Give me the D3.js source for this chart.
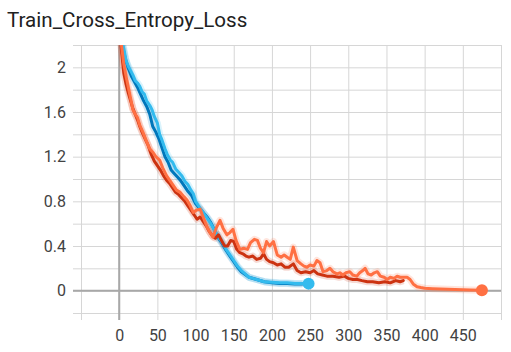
<!DOCTYPE html>
<html>
<head>
<meta charset="utf-8">
<script src="https://cdn.jsdelivr.net/npm/d3@7"></script>
<style>
  body { margin: 0; background: #fff; }
  svg { display: block; font-family: Roboto, sans-serif; }
</style>
</head>
<body>
<svg id="chart" width="511" height="352"></svg>
<script>
// run data: [step, smoothed loss]
var runLightBlue = [[0,2.45],[3,2.25],[6,2.17],[9,2.06],[12,2.01],[15,1.97],[18,1.93],[21,1.88],[24,1.86],[27,1.83],[30,1.78],[33,1.76],[36,1.70],[40,1.66],[43,1.62],[46,1.56],[50,1.50],[53,1.40],[56,1.35],[60,1.27],[63,1.22],[67,1.17],[70,1.15],[74,1.09],[78,1.06],[82,1.03],[86,0.98],[90,0.95],[94,0.90],[97,0.87],[100,0.80],[104,0.76],[108,0.72],[112,0.68],[116,0.64],[120,0.60],[124,0.55],[128,0.50],[132,0.46],[136,0.42],[140,0.37],[145,0.32],[150,0.27],[155,0.22],[160,0.18],[165,0.15],[170,0.12],[175,0.11],[180,0.10],[190,0.08],[200,0.075],[210,0.07],[220,0.07],[230,0.065],[240,0.065],[248,0.063]];

var runDarkBlue = [[0,2.4],[4,2.2],[8,2.08],[12,1.99],[16,1.92],[20,1.87],[24,1.82],[28,1.76],[32,1.70],[36,1.65],[40,1.58],[44,1.47],[48,1.42],[52,1.36],[56,1.28],[60,1.20],[64,1.15],[68,1.08],[72,1.05],[76,1.02],[80,0.99],[85,0.94],[90,0.89],[95,0.85],[100,0.78],[105,0.74],[110,0.70],[115,0.66],[120,0.61],[125,0.54],[130,0.47],[135,0.42],[140,0.36],[145,0.31],[150,0.26],[155,0.21],[160,0.17],[170,0.12],[180,0.10],[190,0.08],[200,0.07],[210,0.065],[220,0.065],[230,0.06],[240,0.06]];

var runDarkRed = [[0,2.4],[3,2.15],[6,1.95],[9,1.85],[12,1.77],[15,1.70],[18,1.63],[21,1.58],[24,1.53],[27,1.47],[30,1.42],[34,1.36],[38,1.30],[42,1.22],[46,1.16],[50,1.12],[54,1.08],[58,1.03],[62,0.99],[66,0.96],[70,0.92],[74,0.88],[78,0.86],[82,0.83],[86,0.80],[90,0.76],[94,0.72],[98,0.68],[102,0.64],[106,0.66],[110,0.62],[114,0.58],[118,0.53],[122,0.49],[126,0.47],[130,0.50],[134,0.45],[138,0.40],[142,0.40],[146,0.45],[150,0.44],[154,0.37],[158,0.34],[162,0.33],[166,0.31],[170,0.30],[175,0.31],[180,0.28],[185,0.29],[189,0.33],[193,0.28],[197,0.26],[202,0.25],[207,0.23],[212,0.24],[217,0.21],[222,0.21],[228,0.24],[233,0.18],[238,0.16],[244,0.17],[250,0.16],[255,0.18],[260,0.15],[266,0.14],[272,0.13],[280,0.13],[288,0.12],[295,0.13],[300,0.11],[306,0.10],[312,0.10],[318,0.09],[325,0.08],[332,0.08],[340,0.07],[348,0.08],[355,0.07],[362,0.09],[368,0.08],[372,0.09]];

var runOrange = [[0,2.45],[3,2.2],[6,2.03],[9,1.92],[12,1.82],[15,1.72],[18,1.62],[21,1.58],[24,1.55],[27,1.48],[31,1.42],[35,1.35],[40,1.27],[44,1.24],[48,1.20],[53,1.17],[57,1.10],[62,1.03],[66,0.99],[70,0.95],[75,0.90],[80,0.88],[85,0.84],[89,0.81],[93,0.76],[97,0.70],[101,0.72],[106,0.73],[110,0.66],[115,0.57],[119,0.52],[123,0.48],[127,0.56],[132,0.63],[136,0.56],[141,0.50],[145,0.52],[149,0.55],[153,0.45],[158,0.37],[163,0.38],[168,0.37],[172,0.43],[177,0.46],[181,0.45],[185,0.38],[189,0.34],[193,0.44],[197,0.40],[202,0.44],[207,0.32],[212,0.30],[216,0.32],[220,0.30],[224,0.28],[228,0.39],[233,0.27],[238,0.24],[242,0.22],[246,0.21],[250,0.23],[255,0.22],[259,0.27],[263,0.25],[267,0.17],[272,0.18],[276,0.20],[280,0.17],[285,0.15],[289,0.16],[293,0.14],[297,0.16],[302,0.17],[306,0.14],[311,0.13],[315,0.16],[319,0.18],[322,0.20],[326,0.15],[330,0.14],[334,0.16],[338,0.17],[342,0.13],[347,0.12],[351,0.10],[355,0.12],[360,0.11],[364,0.13],[368,0.12],[372,0.12],[377,0.12],[381,0.10],[385,0.06],[390,0.035],[395,0.028],[400,0.022],[410,0.018],[420,0.015],[430,0.012],[440,0.01],[450,0.008],[460,0.006],[475,0.004]];

var xGrid = [-50, 0, 50, 100, 150, 200, 250, 300, 350, 400, 450, 500];
var xLabels = [0, 50, 100, 150, 200, 250, 300, 350, 400, 450];
var yGrid = [-0.2, 0, 0.2, 0.4, 0.6, 0.8, 1, 1.2, 1.4, 1.6, 1.8, 2, 2.2];
var yLabels = [0, 0.4, 0.8, 1.2, 1.6, 2];

var runs = [
    {data: runDarkBlue, color: "#0077bb"},
    {data: runLightBlue, color: "#33bbee"},
    {data: runDarkRed, color: "#cc3311"},
    {data: runOrange, color: "#ff7043"}
];

var plotL = 81, plotR = 501, plotT = 45, plotB = 313;

var x = d3.scaleLinear().domain([-50, 500]).range([plotL, plotR]);
var y = d3.scaleLinear().domain([-0.2, 2.2]).range([plotB, plotT]);

var svg = d3.select("#chart");

svg.append("text")
    .attr("x", 7)
    .attr("y", 27)
    .attr("fill", "#212121")
    .style("font-size", "20.6px")
    .text("Train_Cross_Entropy_Loss");

// gridlines + outer ticks
var yAxis = svg.append("g")
    .attr("transform", "translate(" + (plotL - 8) + ",0)")
    .call(d3.axisLeft(y)
        .tickValues(yGrid)
        .tickSize(-(plotR - plotL + 8))
        .tickPadding(7)
        .tickFormat(function(d) {
            var r = Math.round(d * 10) / 10;
            return yLabels.indexOf(r) >= 0 ? d3.format("")(r) : "";
        }));

var xAxis = svg.append("g")
    .attr("transform", "translate(0," + (plotB + 7) + ")")
    .call(d3.axisBottom(x)
        .tickValues(xGrid)
        .tickSize(-(plotB - plotT + 7))
        .tickPadding(10)
        .tickFormat(function(d) { return xLabels.indexOf(d) >= 0 ? d : ""; }));

[yAxis, xAxis].forEach(function(g) {
    g.select(".domain").remove();
    g.selectAll("line").attr("stroke", "#d6d6d6");
    g.selectAll("text")
        .attr("fill", "#424242")
        .style("font-size", "16px")
        .style("font-family", "Roboto, sans-serif");
});

// zero lines
svg.append("line")
    .attr("x1", x(0)).attr("x2", x(0))
    .attr("y1", plotT).attr("y2", plotB + 7)
    .attr("stroke", "#a8a8a8")
    .attr("stroke-width", 2);

svg.append("line")
    .attr("x1", plotL - 8).attr("x2", plotR)
    .attr("y1", y(0)).attr("y2", y(0))
    .attr("stroke", "#a8a8a8")
    .attr("stroke-width", 2);

svg.append("clipPath")
    .attr("id", "clip")
    .append("rect")
    .attr("x", plotL)
    .attr("y", plotT)
    .attr("width", plotR - plotL)
    .attr("height", plotB - plotT);

var line = d3.line()
    .x(function(d) { return x(d[0]); })
    .y(function(d) { return y(d[1]); });

var plot = svg.append("g").attr("clip-path", "url(#clip)");

// pale band behind each run
runs.forEach(function(r) {
    plot.append("path")
        .datum(r.data)
        .attr("fill", "none")
        .attr("stroke", r.color)
        .attr("stroke-opacity", 0.18)
        .attr("stroke-width", 7)
        .attr("stroke-linejoin", "round")
        .attr("d", line);
});

runs.forEach(function(r) {
    plot.append("path")
        .datum(r.data)
        .attr("fill", "none")
        .attr("stroke", r.color)
        .attr("stroke-width", 3)
        .attr("stroke-linejoin", "round")
        .attr("stroke-linecap", "round")
        .attr("d", line);
});

// end markers
[runLightBlue, runOrange].forEach(function(data, i) {
    var last = data[data.length - 1];
    svg.append("circle")
        .attr("cx", x(last[0]))
        .attr("cy", y(last[1]))
        .attr("r", 6)
        .attr("fill", i === 0 ? "#33bbee" : "#ff7043");
});
</script>
</body>
</html>
